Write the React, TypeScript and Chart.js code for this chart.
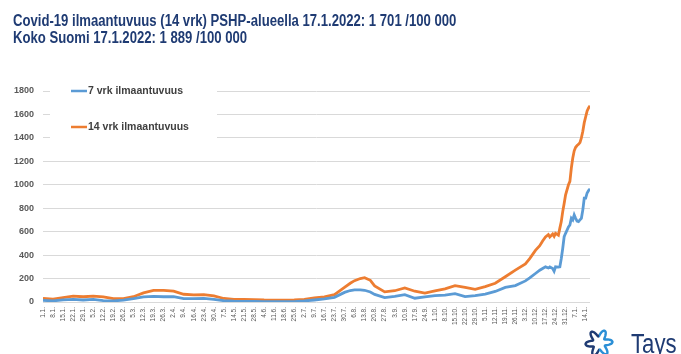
import React, { useEffect, useRef } from "react";
import { Chart, registerables } from "chart.js";

Chart.register(...registerables);

const titleLines = [
  "Covid-19 ilmaantuvuus (14 vrk) PSHP-alueella 17.1.2022: 1 701 /100 000",
  "Koko Suomi 17.1.2022: 1 889 /100 000",
];

const legendLabels = ["7 vrk ilmaantuvuus", "14 vrk ilmaantuvuus"];

// weekly tick labels, starting 1.1.2021 (day 0)
const tickLabels = [
  "1.1.", "8.1.", "15.1.", "22.1.", "29.1.", "5.2.", "12.2.", "19.2.", "26.2.",
  "5.3.", "12.3.", "19.3.", "26.3.", "2.4.", "9.4.", "16.4.", "23.4.", "30.4.",
  "7.5.", "14.5.", "21.5.", "28.5.", "4.6.", "11.6.", "18.6.", "25.6.",
  "2.7.", "9.7.", "16.7.", "23.7.", "30.7.", "6.8.", "13.8.", "20.8.", "27.8.",
  "3.9.", "10.9.", "17.9.", "24.9.", "1.10.", "8.10.", "15.10.", "22.10.", "29.10.",
  "5.11.", "12.11.", "19.11.", "26.11.", "3.12.", "10.12.", "17.12.", "24.12.", "31.12.",
  "7.1.", "14.1.",
];

// day offsets from 1.1.2021 (381 = 17.1.2022)
const sampleDays = [
  0, 7, 14, 21, 28, 35, 42, 49, 56, 63, 70, 77, 84, 91, 98, 105, 112, 119,
  126, 133, 140, 147, 154, 161, 168, 175, 182, 189, 196, 203, 210, 214, 217,
  221, 224, 228, 231, 238, 245, 252, 259, 266, 273, 280, 287, 294, 301, 308,
  315, 322, 329, 336, 339, 343, 346, 348, 350, 352, 353, 355, 356, 357, 359,
  360, 361, 362, 363, 364, 366, 367, 368, 369, 370, 371, 372, 373, 374, 375,
  376, 377, 378, 379, 380, 381,
];

const incidence7 = [
  14, 9, 19, 23, 17, 22, 12, 9, 16, 28, 43, 48, 45, 46, 28, 28, 31, 23,
  11, 7, 6, 6, 4, 3, 3, 4, 9, 17, 26, 40, 82, 98, 104,
  104, 100, 85, 65, 38, 48, 62, 32, 43, 54, 58, 71, 46, 54, 68,
  90, 125, 140, 180, 205, 243, 271, 286, 300, 290, 300, 286, 263, 300, 298,
  300, 371, 457, 557, 586, 640, 657, 714, 700, 743, 714, 690, 686, 700, 714,
  786, 886, 886, 930, 950, 966,
];

const incidence14 = [
  31, 24, 38, 50, 45, 50, 44, 28, 28, 45, 78, 100, 100, 92, 66, 60, 63, 52,
  30, 23, 22, 20, 17, 16, 16, 17, 23, 34, 43, 62, 125, 160, 182,
  200, 208, 185, 138, 86, 96, 120, 92, 76, 94, 112, 140, 125, 108, 131,
  160, 215, 272, 325, 370, 440, 480, 520, 555, 575, 555, 580, 560, 586, 570,
  630, 686, 771, 840, 914, 1000, 1029, 1143, 1229, 1290, 1320, 1335, 1345, 1360, 1400,
  1457, 1530, 1580, 1630, 1655, 1675,
];

const BLUE = "#5B9BD5";
const ORANGE = "#ED7D31";
const FONT = "'Liberation Sans', Arial, sans-serif";

const legendPlugin = {
  id: "customLegend",
  beforeDatasetsDraw(chart: any) {
    const { ctx, chartArea } = chart;
    const x0 = chartArea.left;
    const y0 = chartArea.top;
    ctx.save();
    ctx.fillStyle = "#ffffff";
    ctx.fillRect(x0 + 7, y0 - 6, 167, 62);
    const items = [
      { label: legendLabels[0], color: BLUE, y: y0 },
      { label: legendLabels[1], color: ORANGE, y: y0 + 36 },
    ];
    ctx.font = `bold 10.5px ${FONT}`;
    ctx.textBaseline = "middle";
    ctx.textAlign = "left";
    for (const it of items) {
      ctx.strokeStyle = it.color;
      ctx.lineWidth = 2.5;
      ctx.beginPath();
      ctx.moveTo(x0 + 28, it.y);
      ctx.lineTo(x0 + 44, it.y);
      ctx.stroke();
      ctx.fillStyle = "#404040";
      ctx.fillText(it.label, x0 + 45, it.y);
    }
    ctx.restore();
  },
};

function Logo() {
  // decorative outline "flower" shape of the Tays logo
  const pts: string[] = [];
  const cx = 15;
  const cy = 15;
  for (let i = 0; i <= 120; i++) {
    const t = (i / 120) * Math.PI * 2;
    const r = 10 + 3.5 * Math.cos(6 * t + Math.PI / 6);
    pts.push(`${(cx + r * Math.cos(t)).toFixed(2)},${(cy + r * Math.sin(t)).toFixed(2)}`);
  }
  const d = "M" + pts.join(" L") + " Z";
  return (
    <svg width={32} height={32} style={{ position: "absolute", left: 584, top: 328 }}>
      <defs>
        <clipPath id="lhalf">
          <rect x={0} y={0} width={15} height={32} />
        </clipPath>
        <clipPath id="rhalf">
          <rect x={15} y={0} width={17} height={32} />
        </clipPath>
      </defs>
      <path d={d} fill="none" stroke="#1F3B73" strokeWidth={2.4} clipPath="url(#lhalf)" />
      <path d={d} fill="none" stroke="#2B8FD6" strokeWidth={2.4} clipPath="url(#rhalf)" />
    </svg>
  );
}

export default function App() {
  const canvasRef = useRef<HTMLCanvasElement | null>(null);

  useEffect(() => {
    const canvas = canvasRef.current;
    if (!canvas) return;
    const tickValues = tickLabels.map((_, i) => i * 7);
    const chart = new Chart(canvas, {
      type: "line",
      data: {
        datasets: [
          {
            label: legendLabels[0],
            data: sampleDays.map((d, i) => ({ x: d, y: incidence7[i] })),
            borderColor: BLUE,
            backgroundColor: BLUE,
            borderWidth: 2.8,
            pointRadius: 0,
            tension: 0,
          },
          {
            label: legendLabels[1],
            data: sampleDays.map((d, i) => ({ x: d, y: incidence14[i] })),
            borderColor: ORANGE,
            backgroundColor: ORANGE,
            borderWidth: 2.8,
            pointRadius: 0,
            tension: 0,
          },
        ],
      },
      options: {
        responsive: false,
        animation: false,
        events: [],
        layout: { padding: { left: 0, top: 91, right: 91, bottom: 0 } },
        plugins: {
          legend: { display: false },
          title: { display: false },
          tooltip: { enabled: false },
        },
        scales: {
          x: {
            type: "linear",
            min: 0,
            max: 381,
            grid: { display: false, drawTicks: false },
            border: { display: false },
            afterBuildTicks: (scale: any) => {
              scale.ticks = tickValues.map((v) => ({ value: v }));
            },
            afterFit: (scale: any) => {
              scale.height = 52;
            },
            ticks: {
              autoSkip: false,
              minRotation: 90,
              maxRotation: 90,
              padding: 5,
              color: "#595959",
              font: { family: FONT, size: 6.5 },
              callback: (_v: any, i: number) => tickLabels[i],
            },
          },
          y: {
            min: 0,
            max: 1800,
            grid: { color: "#d9d9d9", lineWidth: 1, drawTicks: false },
            border: { display: false },
            afterFit: (scale: any) => {
              scale.width = 43;
            },
            ticks: {
              stepSize: 200,
              padding: 9,
              color: "#595959",
              font: { family: FONT, size: 9, weight: "bold" },
              callback: (v: any) => String(v),
            },
          },
        },
      },
      plugins: [legendPlugin],
    } as any);
    return () => chart.destroy();
  }, []);

  return (
    <div
      style={{
        position: "fixed",
        left: 0,
        top: 0,
        width: 681,
        height: 354,
        background: "#ffffff",
        overflow: "hidden",
      }}
    >
      <canvas
        ref={canvasRef}
        width={681}
        height={354}
        style={{ position: "absolute", left: 0, top: 0, width: 681, height: 354 }}
      />
      <div
        style={{
          position: "absolute",
          left: 13,
          top: 12,
          fontFamily: FONT,
          fontWeight: "bold",
          fontSize: 16,
          lineHeight: "17px",
          color: "#1F3B73",
          whiteSpace: "nowrap",
          transform: "scaleX(0.82)",
          transformOrigin: "left top",
        }}
      >
        {titleLines.map((t, i) => (
          <div key={i}>{t}</div>
        ))}
      </div>
      <Logo />
      <div
        style={{
          position: "absolute",
          left: 631,
          top: 331,
          fontFamily: FONT,
          fontSize: 27,
          lineHeight: "26px",
          color: "#1F3B73",
          whiteSpace: "nowrap",
          transform: "scaleX(0.82)",
          transformOrigin: "left top",
        }}
      >
        Tays
      </div>
    </div>
  );
}
